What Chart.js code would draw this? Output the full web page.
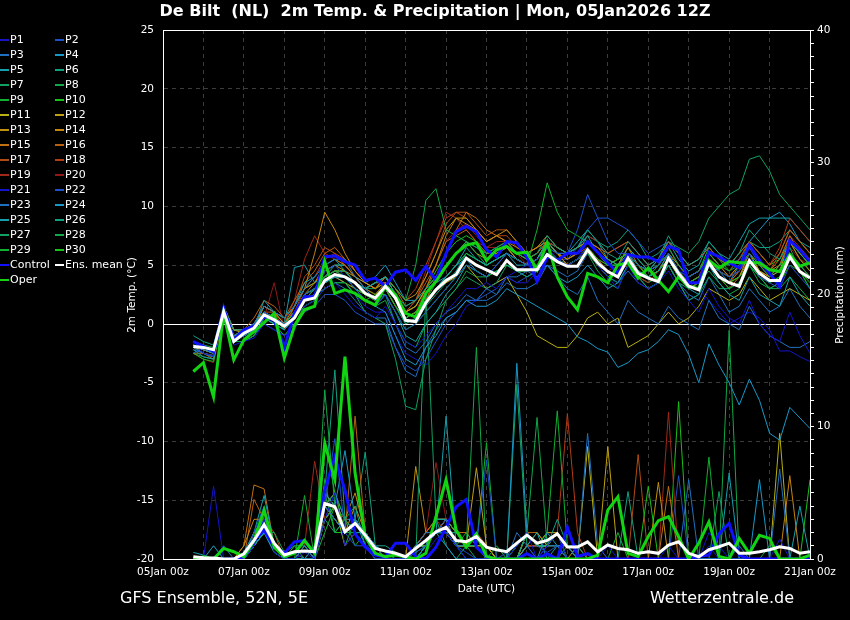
<!DOCTYPE html>
<html>
<head>
<meta charset="utf-8">
<script src="https://cdn.jsdelivr.net/npm/chart.js@4.4.1/dist/chart.umd.min.js"></script>
<style>
html, body { margin: 0; padding: 0; background: #000; }
canvas { display: block; }
</style>
</head>
<body>
<canvas id="ens" width="850" height="620"></canvas>
<script>
const TITLE = "De Bilt  (NL)  2m Temp. & Precipitation | Mon, 05Jan2026 12Z";
const FOOT_LEFT = "GFS Ensemble, 52N, 5E";
const FOOT_RIGHT = "Wetterzentrale.de";
const X_LABELS = ["05Jan 00z", "07Jan 00z", "09Jan 00z", "11Jan 00z", "13Jan 00z",
                  "15Jan 00z", "17Jan 00z", "19Jan 00z", "21Jan 00z"];

// forecast hours since 05Jan 00z (05Jan 18z ... 21Jan 00z, every 6h)
const HOURS = [18,24,30,36,42,48,54,60,66,72,78,84,90,96,102,108,114,120,126,132,138,144,150,156,162,168,
               174,180,186,192,198,204,210,216,222,228,234,240,246,252,258,264,270,276,282,288,294,300,306,
               312,318,324,330,336,342,348,354,360,366,372,378,384];

// 2m temperature (°C): first value 05Jan 18z, then one group of 00z,06z,12z,18z per day, last 21Jan 00z
const CTRL_T = [-1.5,  -1.9,-2.35,1.35,-1.36,  -0.5,-0.2,0.6,0.3,  -2.0,0.9,2.3,2.3,  5.7,5.8,5.3,5.0,
  3.7,3.9,3.2,4.4,  4.6,3.7,4.9,3.7,  6.0,7.85,8.3,7.85,  6.3,5.7,7.0,6.9,  5.7,3.6,5.7,5.4,
  6.0,6.0,7.0,6.1,  5.2,4.3,5.9,5.7,  5.7,5.3,6.6,6.3,  3.5,3.5,6.1,5.7,  5.2,4.75,6.7,5.4,
  4.3,3.2,7.1,6.3,  5.3];
const OPER_T = [-4.05,  -3.3,-6.2,0.9,-3.06,  -1.36,-0.65,0.1,0.9,  -2.9,-0.2,1.2,1.5,  5.3,2.6,2.9,2.6,
  2.0,1.6,3.2,2.5,  0.9,0.6,2.6,3.6,  4.9,6.0,6.7,6.9,  5.4,6.3,6.6,6.0,  6.1,4.6,6.9,4.0,
  2.3,1.2,4.3,4.0,  3.5,5.0,5.2,3.9,  4.75,3.7,2.75,4.0,  3.2,3.0,5.4,4.75,  5.3,5.2,5.2,5.2,
  4.6,4.45,5.9,4.9,  5.2];
const MEAN_T = [-1.93,  -2.0,-2.2,1.05,-1.5,  -0.8,-0.35,0.77,0.34,  -0.2,0.5,2.0,2.2,  3.7,4.2,4.0,3.5,
  2.6,2.2,3.2,2.2,  0.3,0.2,1.8,2.9,  3.7,4.2,5.6,5.0,  4.6,4.2,5.4,4.6,  4.6,4.6,5.9,5.3,
  4.9,4.9,6.3,5.2,  4.45,4.0,5.6,4.3,  3.9,3.6,5.6,4.3,  3.2,2.9,5.2,4.0,  3.5,3.2,5.4,4.3,
  3.7,3.7,5.7,4.45,  3.9];

// precipitation (mm / 6h), same layout
const CTRL_P = [0.07,  0,0,0,0,  0.17,1.4,2.2,0.9,  0.43,1.3,1.4,0.43,  5.2,7.7,5.2,1.9,  0.9,0.3,0.17,1.2,
  1.2,0.17,0,0.9,  2.4,3.95,4.5,0.9,  0.2,0,0,0,  0.4,0,0.4,0,  2.4,0.2,0.4,0,  0,0,0,0,  0,0,0,0,
  0,0.2,0.3,1.9,  2.7,0.3,0,0,  0,0,0,0,  0];
const OPER_P = [0,  0.17,0,0.8,0.55,  0.17,1.4,3.7,0.9,  0.17,0.43,1.4,0.43,  8.75,6.0,15.3,6.5,
  1.7,0.43,0.17,0.3,  0.17,0,0.43,3.2,  6.0,2.2,0.9,1.9,  0.2,0,0,0,  0,0,0,0,  0,0,0,0.3,
  3.7,4.7,0.43,0.2,  1.7,2.9,3.2,1.7,  0,1.2,2.8,0.2,  0,1.56,0.43,1.8,  1.56,0,0,0,  0.3];
const MEAN_P = [0.17,  0.1,0.07,0,0,  0.4,1.4,2.6,1.2,  0.3,0.55,0.6,0.55,  4.2,3.95,2.06,2.7,
  1.8,0.8,0.6,0.43,  0.17,0.8,1.4,2.06,  2.4,1.4,1.3,1.7,  0.9,0.7,0.55,1.2,  1.8,1.2,1.4,1.9,
  0.9,0.9,1.3,0.55,  1.06,0.8,0.7,0.43,  0.55,0.43,1.06,1.3,  0.43,0.17,0.7,0.93,  1.2,0.43,0.43,0.55,
  0.7,0.93,0.8,0.43,  0.55];

// members, 2m temperature
const T_P01 = [-1.5,  -2.5,-2.7,0.5,-1.8,  -1.5,-1.2,0,-0.5,  -1,-0.5,1.5,2,  3,3.5,2.5,1.5,  1,0.5,1.5,0,  -1.5,-2,-1,0,  1,2,3,3,  3.5,3,4,4.5,  5,4.5,6.5,5.5,  5,5.5,6.5,5,  4,3,5,3.5,  3,3.5,4.5,3,  2,1,3,1.5,  0.5,0,2,0,  -1,-1.5,1,-1,  -2.5];
const T_P02 = [-2,  -2.5,-2.8,1,-1.5,  -1,-0.5,1,0.5,  0,0.5,2.5,3,  4.5,5,4,3,  2,1.5,2.5,1,  -0.5,0,1,2,  3,4,5,4.5,  4,5,6,5.5,  5,5.5,6.5,6,  6,8,11,9,  7,6,6,5,  4.5,5,6,4.5,  4,4.5,5.5,4.5,  4,4.5,6,4,  3.5,3,5,4,  3];
const T_P03 = [-2.5,  -2,-2.5,1.5,-1,  -0.5,0,1.5,1,  0.5,1.5,3,4,  5,5.5,5.5,4,  3,2,2.5,0,  -2,-2.5,-1.5,0,  1,1.5,2.5,2,  3,2.5,4,4,  4.5,4,5,4,  3,2.5,4,2,  1,0,2,1,  0.5,0,1.5,0.5,  0,-0.5,2,0.5,  0,-0.5,1.5,0,  -1,-1.5,-2,-2,  -1.5];
const T_P04 = [-1.8,  -2.2,-2.5,0.5,-1.5,  -1,-0.5,0.5,0,  -0.5,0.5,2,2.5,  3.5,4,4,3,  2,1.5,1,-1,  -3,-3.5,-2,-1,  0.5,1,2,1.5,  1.5,2,3,2.5,  2,1.5,1,0.5,  0,-1.1,-1.5,-2.1,  -2.4,-3.7,-3.3,-2.5,  -2.2,-1.5,-0.5,-0.9,  -2.6,-5,-1.7,-3.5,  -5,-6.9,-4.7,-6.5,  -9.3,-9.9,-7.1,-8,  -8.9];
const T_P05 = [-2.2,  -2.8,-3,1.2,-1,  -0.8,-0.3,2,1,  0.5,1.5,3.5,4,  5,5.5,4.5,3.5,  3,3.5,4,2.5,  1,0.5,2,3,  4,5,6.5,5.5,  5,5.5,6,5,  5,5.5,7,6,  6,6.5,7.5,6,  5.5,5,6,4.5,  4,4.5,6,4,  3,2.5,5,3.5,  2.5,2,4,2.5,  2,1.5,4,2.5,  1.5];
const T_P06 = [-1,  -1.5,-1.8,1.5,-0.5,  -0.5,0,1,0.5,  0,1,2,3,  3.5,4,4,3.5,  3,3.5,4,2.5,  1.5,2,3,4,  5,6,7,6.5,  6,6.5,7,6,  5.5,6,7.5,6.5,  6,6.5,8,7,  6,5.5,7,6,  5,5.5,7.5,6,  5,5.5,7,6,  5,6,8,7,  6,5.5,7,6,  5];
const T_P07 = [-2,  -2,-2.5,0.5,-1.5,  -1.5,-1,0.5,0,  -0.5,0.5,1.5,2,  3,3.5,3.5,2.5,  1,0.5,0,-3,  -7,-7.3,-3,-0.5,  2,3,4,3.5,  3,3.5,5,4.5,  4,4.5,6,5.5,  5,5.5,6,4.5,  3.5,3,5,4,  3,3.5,5,3.5,  2,2.5,4,3,  3,3.5,5,4,  3,3.5,6,5,  4];
const T_P08 = [-1.5,  -1.8,-2,1,-1,  -1,-0.5,1,0.5,  0,1,2.5,3,  4,4.5,4.5,3.5,  3,3.5,4,3,  2,5,10.5,11.5,  8,7.5,7,6,  5,5.5,6,5.5,  5,5,6.5,5.5,  5,5.5,6,5,  4,4.5,5.5,4.5,  4,5,6.5,5,  4,4.5,6,5,  4.5,5,6,5,  4,5,6.5,4.5,  3];
const T_P09 = [-2,  -2.5,-2.8,0.5,-1,  -1,-0.5,1,0.5,  -0.5,0.5,2,3,  4,4.5,4,3,  2.5,2,3,1.5,  0.5,1,2,3,  4,5,6,5.5,  5,5.5,6,5.5,  5,8,12,9.5,  8,7.5,7,6,  5,5.5,6,5,  4.5,5,6,4.5,  3.5,4,5,4,  3,3.5,5,4,  3.5,4,6,5,  4];
const T_P10 = [-2.5,  -3,-3.2,1,-1.5,  -1.5,-1,0.5,0,  -1,0,1.5,2,  3,3.5,3.5,2.5,  2,2.5,2.5,1,  -0.5,0,1,2,  3,4,5,4.5,  4,4.5,5,4.5,  4.5,5,6,5.5,  5,5.5,6.5,5.5,  5,5.5,6,5,  4,4.5,5.5,4,  3,3.5,5,4,  3.5,4,5,4,  3,3.5,5,4.5,  3.5];
const T_P11 = [-1.8,  -2,-2.2,1,-1,  -0.5,0,1,0.5,  0,1,2,2.5,  3.5,4,3.5,3,  2.5,2,3,1.5,  0.5,1,2,3,  3.5,4,5,4,  3,3.5,4,2.5,  1,-1,-1.5,-2,  -2,-1,0.5,1,  0,0.5,-2,-1.5,  -1,0,1,0,  0.5,1.5,3,2.5,  2,2.5,4,3,  2,2.5,3,2.5,  2];
const T_P12 = [-2,  -2.2,-2.5,1.5,-0.5,  -0.8,-0.3,1.5,1,  0,1,2.5,3,  4,4.5,4.5,3.5,  3,3.5,4,2.5,  1,1.5,3,4,  5,6,7,6,  5.5,6,6.5,5.5,  5,5.5,7,6,  5,5.5,6.5,5,  4.5,4,6,4.5,  4,4.5,5.5,4,  3,3.5,5.5,4,  3.5,4,6,4.5,  4,4.5,7,6,  5];
const T_P13 = [-1.5,  -2,-2.3,1,-0.5,  -0.5,0,1.5,1,  0.5,1.5,3,3.5,  4.5,5,4.5,4,  3.5,3,4,3,  2,2.5,4,6,  8,9,9,8,  7,7.5,8,7,  6,6.5,7.5,6.5,  6,6.5,7,6,  5,5.5,6,5,  4.5,5,6,5,  4,4.5,6,5,  4,5,6.5,5.5,  4.5,5,6,5,  4];
const T_P14 = [-2,  -2.5,-2.7,0.5,-1,  -1,-0.5,1,0.5,  0,1.5,3,6,  9.5,8,6,4.5,  3.5,3,3.5,2,  1,1.5,3,5,  7.5,9,8.5,8,  7,7.5,7,6.5,  6,6.5,7,6,  5.5,6,7,6.5,  5.5,5,6.5,5,  4.5,5,6,4.5,  3.5,4,5,4,  3,4,5.5,4.5,  4,5,7,5.5,  4.5];
const T_P15 = [-2.5,  -2.5,-3,1,-1,  -1,-0.5,1,0.5,  0,1,2.5,3.5,  5,5.5,5,4,  3,2.5,3.5,2,  0.5,1,2,4,  6,8,9.5,9,  8,7.5,7,6,  5.5,6,7,6,  5,5.5,6.5,5.5,  4.5,4,5.5,4.5,  4,4.5,5.5,4,  3,3.5,5,4,  3.5,4.5,6,5,  4.5,5.5,7.5,6,  5];
const T_P16 = [-1.8,  -2.2,-2.5,1,-0.5,  -0.5,0.5,2,1.5,  0.5,2,3.5,4.5,  6,6.5,5.5,4.5,  3.5,3,4,3,  1.5,2,3.5,5,  7,7.5,8,7,  6,6,6.5,5.5,  5,5.5,6.5,6,  5.5,6,7,6.5,  6,6.5,7,6,  5,5.5,7,6,  5,5.5,6.5,5.5,  5,6,7,6,  5,6,8,7,  6];
const T_P17 = [-2,  -2.5,-2.7,1,-1,  -1,-0.5,1,1,  -0.5,1.5,4,5,  6.5,6,5,4,  3,3.5,3.5,2,  1,2,4,6,  8.5,9.5,9.5,8.5,  7.5,8,8,7,  6,6.5,7,6,  5.5,6,6.5,5.5,  5,5.5,6,5,  4,4.5,6,4.5,  3,3.5,5.5,4.5,  4,5,6.5,5.5,  4.5,6,8,7,  6];
const T_P18 = [-1.5,  -2,-2.3,1.5,-0.5,  -0.5,0,1.5,1,  0,1,3,4,  5.5,6,5.5,4.5,  3.5,3,4,3,  2,3,5,7,  9,9.5,9,8,  7,7.5,7.5,6.5,  6,6.5,7,6,  5,5.5,6,5,  4,4.5,5,4,  3.5,4.5,5.5,4.5,  3.5,4,6,5,  4.5,5.5,7,6,  5,6.5,9,8,  7];
const T_P19 = [-2,  -2.2,-2.5,1,-1,  -1,-0.5,1.5,1,  0,2,5.5,7.5,  6,5.5,5,4,  3,3.5,3.5,2,  1,2,4.5,7,  9.5,9,8,7,  6.5,7,7,6,  5.5,6,7,6.5,  6,6.5,7.5,7,  6,6.5,7,6,  5,5.5,6.5,5,  4,4.5,6,5,  4,4.5,6,5,  4,5,7.5,6.5,  5.5];
const T_P20 = [-2.5,  -3,-3.3,0.5,-1.5,  -1.5,-1,0.5,3.5,  -0.5,0.5,2,3,  4,4.5,4,3,  2.5,2,3,1.5,  0.5,1,3,5,  7,8,8.5,7.5,  6.5,6.5,7,6,  5,5.5,6.5,5.5,  5,5.5,6,5,  4.5,5,6,5,  4,4.5,5.5,4.5,  3.5,4,5,4,  3.5,4.5,5.5,4.5,  4,5,6.5,5.5,  5];
const T_P21 = [-1.5,  -2,-2.3,1,-1,  -1,-0.5,0.5,0,  -0.5,0.5,2,2.5,  3.5,4,3.5,2.5,  1.5,1,1,-1,  -2.5,-3,-3.5,-2.5,  -1,0,1.5,2,  3,3.5,4,3.5,  3.5,4.5,6,5.5,  5,5.5,7,6.5,  6,6.5,7,6,  5,5.5,6.5,5,  3.5,3,2,1,  0,0.5,1,0.5,  -0.5,-2.3,-2.3,-2.8,  -3.2];
const T_P22 = [-2,  -2.5,-2.8,0.5,-1.5,  -1.5,-1,0,-0.5,  -1,0,1,1.5,  2.5,2.5,2,1,  0.5,0,0,-2,  -3.5,-4,-3,-1.5,  0,1,2,2,  2.5,3,4,3.5,  4,4.5,6,5.5,  5.5,6.5,8,9,  9,8.5,8,7,  6,6.5,7,6,  5,5.5,6.5,5.5,  5,5.5,6.5,5,  4,4.5,5.5,4.5,  4];
const T_P23 = [-2.2,  -2.5,-2.8,1,-1,  -1,-0.5,1,0.5,  0,1,2,2.5,  3,3.5,3,2,  1,0.5,0.5,-2,  -4,-4.5,-2,-0.5,  0.5,1,2,2,  2,2.5,3.5,3,  3,3.5,5,4.5,  4,4.5,6,5,  4,3.5,4.5,3.5,  3,3.5,5,3.5,  2.5,2,4,2.5,  1,1.5,3,2,  1,1.5,3,1.5,  0.5];
const T_P24 = [-1.8,  -2,-2.3,1.2,-0.5,  -0.5,0,1,0.5,  0,1,2.5,3,  4,5,5,4,  3.5,4,5,3.5,  2,2,3,3.5,  4,5,5.5,4.5,  4,4.5,5,4.5,  4,4.5,5,4,  3.5,4,5,4,  3,3.5,5,4,  3,3.5,5,3.5,  2,2.5,5,4.5,  3.5,5,7,8,  9,9.5,8.5,7,  6];
const T_P25 = [-2,  -2.5,-2.8,0.5,-1.5,  -1,-0.5,1,0.5,  0,4.8,5,3.5,  4,4.5,4,3,  2,1.5,2.5,1,  -1,-1.5,0,1,  2.5,3.5,5,4.5,  4,5,6,5.5,  5,5.5,7,6.5,  6,7,8,7,  5.5,5,6.5,5.5,  4.5,5.5,7,5.5,  4.5,5,7,6,  5.5,7,8.5,9,  9,9,9,8,  7];
const T_P26 = [-1.5,  -2.2,-2.5,1,-1,  -1,-0.5,1,0.5,  -0.5,0.5,2,2.5,  3.5,4,4,3,  2.5,2,3,1.5,  0,0.5,1.5,2.5,  3.5,4.5,6,5.5,  5,5.5,6,5.5,  5,5.5,7,6,  5.5,6,7.5,7,  6.5,7,8,7,  5.5,6,7,6,  5,5.5,6.5,5.5,  5,6,7,6.5,  6.5,7,8,7,  6.5];
const T_P27 = [-2,  -2.5,-2.7,0.5,-1,  -1,-0.5,1,0.5,  0,1,2.5,3,  4,4.5,4.5,3.5,  3,3,3.5,2,  0.5,1,2,3,  4,5,6,5.5,  5,5.5,6,5.5,  5,5.5,7,6.5,  6,6.5,7,6,  5,5.5,6,5,  4.5,5.5,7,6.5,  6,7,9,10,  11,11.5,14,14.3,  13,11,10,9,  8];
const T_P28 = [-2.5,  -2.8,-3,1,-1.5,  -1,-0.5,0.5,0,  -0.5,0.5,2,2.5,  3.5,4,3.5,2.5,  2,1.5,2,0,  -1.5,-2,0,1,  2,3,4.5,4,  4,4.5,5,4.5,  4.5,5,6,5.5,  5,5.5,6,5,  4,3.5,5,4,  3.5,4,5,3.5,  3,3.5,4.5,3.5,  2.5,3,5,3.5,  3,3,4,3,  2];
const T_P29 = [-2,  -2.5,-2.8,0.5,-1,  -1,-0.5,1,0.5,  0,1,2,3,  4,4.5,4,3,  2.5,2,3,1.5,  0,0.5,2,3.5,  5,6,7,6.5,  6,6,6.5,5.5,  5,5.5,7,6,  5.5,6,7,6,  5,5,6,5,  4,4.5,6,4.5,  3.5,4,5.5,4.5,  4,4.5,6,4.5,  3.5,4,6,4.5,  3];
const T_P30 = [-1.5,  -2,-2.2,1.5,-0.5,  -0.5,0,1.5,1,  0.5,1.5,3,3.5,  4.5,5,5,4,  3,2.5,3.5,2.5,  1,1.5,3,4.5,  6,7,7.5,7,  6,6.5,7,6,  5.5,6,7,6.5,  6,6.5,7,6,  5,5,6.5,5.5,  4.5,5,6.5,5,  4,4.5,6.5,5.5,  4.5,5.5,7,6,  5,5.5,7,5.5,  4.5];

// members, precipitation
const P_P01 = [0,  0,5.5,0,0,  0,1,3,0.5,  0,0,0.5,0,  3,5,1,2,  1,0,0,0,  0,0,0.5,1.5,  2,1,0,0,  0,0,0,1,  2,0,1,2,  0,0,0,0,  1,0,0,0,  0,0,1,0,  0,0,2,1,  0,0,0,0,  0,1.5,0,0,  0];
const P_P02 = [0,  0,0,0,0,  0,2,4,1,  0,0.5,0,0,  4,9.1,2,1,  1,0.5,0,0,  0,0.5,1,2,  3,1,0.5,0,  0,0,0.5,1,  2,1,0.5,1,  0,0,0,0,  0,0,0,0,  0,0,0,0,  0,0,0,0,  0,0,0,0,  0,0,0,0,  0];
const P_P03 = [0,  0,0,0,0,  0,1.5,3,1,  0,0,1,0,  4,3,2,3,  2,1,0,0,  0,1,2,2,  2,1,1,2,  0,0,0,2,  1,0,1,1,  1,0,9.5,1,  0,0,0,0,  0,0,0,0,  0,0,0,0,  0,1,0,0,  0,6.8,0,0,  0];
const P_P04 = [0,  0,0,0,0,  0,1,2,0.5,  0,0,0,1,  5,4,8.2,3,  1,0,0,0,  0,0,1,2,  1,0,0,0,  0,0,0,0,  0,0,2,1,  0,0,0,0,  0,0,0,0,  0,0,0,0,  0,0,0,0,  0,0,0,0,  0,0,0,0,  0];
const P_P05 = [0.5,  0.3,0,0,0,  0.5,2,4.8,1,  0,0,0,0,  4,3,2,3,  2,1,0.5,0,  0,0.5,1,3,  3,1,0,0,  0,0,0,0,  1,2,0,1,  0,0,0,0,  0,0,0,0,  0,0,0,0,  0,0,0,0,  6.5,0,0,0,  0,0,0,0,  0];
const P_P06 = [0,  0,1,0,0,  0,1,3,1,  0,0,1,0,  5,14.3,3,2,  2,1,1,0.5,  0,0,1,2,  2,2,1,1,  0,0,0,0,  2,1,1,3,  1,1,0,0,  0,0,0,0,  0,0,0,0,  0,0,0,0,  0,0,0,0,  0,0,0,0,  0];
const P_P07 = [0,  0,0,0,0,  0,1,2,2,  0.5,1,1,0,  4,5,3,4,  1,0,0,0,  0,0,20,3,  1,0,1,0,  0,0,0,0,  0,0,0,0,  1,0,0,0,  0,0,0,0,  0,0,0,0,  0,0,0,5.1,  0,0,0,0,  0,0,0,0,  0];
const P_P08 = [0,  0,0,0,0,  0,2,3,1,  0,0,0,0,  12.8,4,2,2,  1,0,0,0,  0,1,1,3,  3,2,1,1,  0,0,0,0,  2,10.7,1,1,  0,0,0,0,  0,0,0,0,  0,0,0,0,  0,0,0,0,  0,0,0,0,  0,0,0,0,  0];
const P_P09 = [0,  0,0,0,0,  0,1,2,1,  0,0,4.8,0,  3,4,2,3,  2,1,0,0,  0,0,1,2,  2,1,2,1,  0,1,0,1,  2,1,2,11.2,  1,0,0,0,  0,2,0,0,  0,0,0,0,  0,0,0,0,  0,0,0,0,  1,0,0,0,  0];
const P_P10 = [0,  0,0,0,0,  0,1,2,0.5,  0,1,0,0,  9,5,2,3,  2,1,0,0,  0,0,1,2,  2,1,1,2,  0,0,0,1,  2,1,1,2,  0,0,0,0,  0,0,0,0,  5.5,0,0,0,  0,0,0,0,  0,0,0,0,  0,0,0,0,  6];
const P_P11 = [0,  0,0,0,0,  0,1.5,3,1,  0,0,0,0,  3,4,1,2,  2,1,0,0,  0,1,1,2,  3,2,1,1,  1,0,0,0,  2,1,1,1,  1,0,8.5,0,  0,0,0,0,  0,0,0,0,  0,0,0,0,  0,0,0,0,  0,9.5,0,0,  0];
const P_P12 = [0,  0,0,0,0,  0,2,3,1,  0,0,0,0,  4,3,2,3,  2,1,0,0,  0,0,1,2,  2,1,1,6.9,  1,0,0,0,  1,2,1,2,  0,1,0,0,  8.5,0,0,0,  0,0,0,0,  0,0,0,0,  0,0,0,0,  0,0,0,0,  0];
const P_P13 = [0,  0,0,0,0,  0,2,3,1,  0,0,1,0,  5,4,2,4,  2,1,0,0,  0,7,2,2,  3,1,1,1,  0,0,0,0,  2,1,2,2,  1,0,0,0,  0,0,0,0,  0,5.8,0,0,  0,0,0,0,  0,0,0,0,  0,0,0,0,  0];
const P_P14 = [0,  0,0,0,0,  1,3,3,1,  0,0,0,0,  5,4,3,5,  2,1,0,0,  0,1,1,3,  3,2,1,1,  1,0,0,1,  2,1,2,2,  1,0,0,0,  0,0,0,0,  0,0,0,0,  0,0,0,0,  0,0,0,0,  0,0,6.3,0,  0];
const P_P15 = [0,  0,0,0,0,  1,5.6,5.3,1,  0,0,1,0,  4,5,2,3,  2,1,0,0,  0,1,2,3,  3,2,2,1,  0,0,0,0,  2,1,1,2,  1,0,0,0,  0,0,0,0,  0,0,5.5,0,  0,0,0,0,  0,0,0,0,  0,0,0,0,  0];
const P_P16 = [0,  0,0,0,0,  0,4.5,3,1,  0,0.5,0,0,  4,5,2,10.8,  2,1,0,0,  0,1,1,2,  3,1,1,2,  1,0,0,0,  2,2,1,2,  1,0,0,0,  0,0,0,0,  0,0,0,0,  0,0,0,0,  0,0,0,0,  0,0,0,0,  0];
const P_P17 = [0,  0,0,0,0,  0,2,3,2,  0,0,0,1,  3,4,2,3,  2,1,0,0,  0,1,2,3,  3,2,1,1,  0,0,0,0,  1,1,2,2,  1,0,0,0,  0,0,0,7.9,  0,0,0,0,  0,0,0,0,  0,0,0,0,  0,0,0,0,  0];
const P_P18 = [0,  0,0,0,0,  0,1,3,1,  0,0,0,0,  4,3,2,3,  2,1,0,0,  0,1,2,3,  3,1,1,1,  0,0,0,0,  2,1,1,2,  11,2,0,0,  0,0,0,0,  0,0,0,0,  0,0,0,0,  0,0,0,0,  0,0,0,0,  0];
const P_P19 = [0,  0,0,0,0,  0,2,2,1,  0,0,1,7.4,  3,4,2,3,  2,1,0,0,  0,1,2,3,  2,1,1,1,  0,0,0,0,  1,1,2,2,  1,0,0,0,  0,0,0,0,  0,0,11.1,0,  0,0,0,0,  0,0,0,0,  0,0,0,0,  0];
const P_P20 = [0,  0,0,0,0,  0,1,2,1,  0,0,0,0,  3,4,2,3,  2,1,0,0,  0,1,2,7.3,  3,1,1,1,  0,0,0,0,  1,1,2,2,  1,0,0,0,  0,0,0,0,  0,0,0,0,  0,0,0,0,  0,0,0,0,  0,0,0,0,  0];
const P_P21 = [0,  0,1,0,0,  0,1,2,1,  0,0,0,0,  3,4,2,2,  1,1,0,0,  0,1,1,2,  2,1,1,1,  0,0,0,0,  1,0,1,1,  0,0,0,0,  0,0,0,0,  0,0,0,0,  0,0,1,0,  0,0,0,0,  0,0,0,0,  0];
const P_P22 = [0,  0,0,0,0,  0,1,2,1,  0,0,0,0,  3,5,2,2,  1,0.5,0,0,  0,1,1,2,  2,1,1,1,  7.5,0,0,0,  1,1,1,2,  0,0,0,0,  0,0,0,0,  0,0,0,6.3,  0,0,0,0,  0,0,0,0,  0,0,0,0,  0];
const P_P23 = [0,  0,0,1,0,  0,1,2,1,  0,0,0,0,  3,4,2,3,  2,1,0,0,  0,1,1,2,  2,1,1,1,  0,0,0,0,  1,1,1,2,  1,0,0,0,  0,0,0,0,  0,0,0,0,  6,0,0,0,  0,0,0,0,  0,0,0,0,  0];
const P_P24 = [0,  0,0,0,0,  0,1,3,1,  0,0,0,0,  4,5,3,3,  2,1,0,0,  0,1,2,2,  2,1,1,1,  0,0,0,14.8,  2,1,1,2,  1,0,0,0,  0,0,0,0,  0,0,0,0,  0,0,0,0,  0,0,0,6,  0,0,0,0,  0];
const P_P25 = [0,  0,0,0,0,  0,1,2,1,  0,0,0,0,  3,4,2,3,  2,1,0,0,  0,1,1,2,  10.8,1,1,1,  0,0,0,0,  1,1,1,2,  1,0,0,0,  0,0,0,0,  0,0,0,0,  0,0,0,0,  0,0,0,0,  0,0,0,4,  0];
const P_P26 = [0,  0,0,0,0,  0,1,3,1,  0,0,0,0,  4,3,2,3,  8.1,1,0,0,  0,1,1,2,  2,1,1,1,  0,0,0,0,  1,1,1,2,  1,0,0,0,  0,0,5.1,0,  0,0,0,0,  0,0,0,0,  0,0,0,0,  0,0,0,0,  0];
const P_P27 = [0,  0,0,0,0,  0,1,2,1,  0,0,0,0,  3,2,3,2,  2,1,0,0,  0,1,1,2,  2,1,1,1,  0,0,0,13.2,  1,1,1,2,  1,0,0,0,  0,0,0,0,  0,0,0,0,  0,0,0,0,  0,0,0,0,  0,0,0,0,  0];
const P_P28 = [0,  0,0,0,0,  0,1,2,1,  0,0,0,0,  6,2,3,1,  2,1,0,0,  0,1,1,2,  2,1,1,16,  0,0,0,0,  1,1,1,2,  1,0,0,0,  0,0,0,0,  0,0,0,0,  0,0,0,0,  17.3,0,0,0,  0,0,0,0,  0];
const P_P29 = [0,  0,0,0,0,  0,1,2,1,  0,0,0,0,  2,4,1,3,  2,1,0,0,  0,1,1,2,  2,1,1,1,  8.8,0,0,0,  1,1,1,2,  1,0,0,0,  0,0,0,0,  0,0,0,0,  0,0,7.7,0,  0,0,0,0,  0,0,0,0,  0];
const P_P30 = [0,  0,0,0,0,  0,1,2,1,  0,0,0,0,  5,2,2,2,  2,1,0,0,  0,1,1,2,  2,1,1,1,  0,0,0,0,  1,1,1,2,  1,0,0,0,  0,0,0,0,  0,0,0,11.9,  0,0,0,0,  0,0,0,0,  0,0,0,0,  0];

const MEMBER_NAMES = ["P1","P2","P3","P4","P5","P6","P7","P8","P9","P10","P11","P12","P13","P14","P15",
                      "P16","P17","P18","P19","P20","P21","P22","P23","P24","P25","P26","P27","P28","P29","P30"];
// P21..P30 reuse the colours of P1..P10
const MEMBER_COLORS = ["#1414c8","#1e50c8","#2070c0","#1898c8","#14a0ac","#10a080","#10a060","#10a848","#10b030","#18c018",
                       "#b8b010","#c0a010","#c09010","#c48410","#c07010","#b86010","#b04c10","#b03c18","#a02818","#901818"];
const CTRL_COLOR = "#1010ff";
const OPER_COLOR = "#12d412";
const MEAN_COLOR = "#ffffff";

const MEMBER_T = [T_P01,T_P02,T_P03,T_P04,T_P05,T_P06,T_P07,T_P08,T_P09,T_P10,T_P11,T_P12,T_P13,T_P14,T_P15,
                  T_P16,T_P17,T_P18,T_P19,T_P20,T_P21,T_P22,T_P23,T_P24,T_P25,T_P26,T_P27,T_P28,T_P29,T_P30];
const MEMBER_P = [P_P01,P_P02,P_P03,P_P04,P_P05,P_P06,P_P07,P_P08,P_P09,P_P10,P_P11,P_P12,P_P13,P_P14,P_P15,
                  P_P16,P_P17,P_P18,P_P19,P_P20,P_P21,P_P22,P_P23,P_P24,P_P25,P_P26,P_P27,P_P28,P_P29,P_P30];

const FONT = "'DejaVu Sans', sans-serif";
const GRID = "#3c3c3c";

const datasets = [];
function addLine(label, vals, axis, color, width, order) {
    datasets.push({
        label: label,
        data: vals.map((v, i) => ({ x: HOURS[i], y: v })),
        yAxisID: axis,
        borderColor: color,
        borderWidth: width,
        pointRadius: 0,
        tension: 0,
        fill: false,
        order: order
    });
}

addLine("Ens. mean", MEAN_T, "y", MEAN_COLOR, 3, 1);
addLine("Oper", OPER_T, "y", OPER_COLOR, 3, 2);
addLine("Control", CTRL_T, "y", CTRL_COLOR, 3, 3);
addLine("Ens. mean", MEAN_P, "y2", MEAN_COLOR, 3, 1);
addLine("Oper", OPER_P, "y2", OPER_COLOR, 3, 2);
addLine("Control", CTRL_P, "y2", CTRL_COLOR, 3, 3);
MEMBER_T.forEach((vals, i) => addLine(MEMBER_NAMES[i], vals, "y", MEMBER_COLORS[i % 20], 1, 10));
MEMBER_P.forEach((vals, i) => addLine(MEMBER_NAMES[i], vals, "y2", MEMBER_COLORS[i % 20], 1, 10));

// title, footer, axis titles, legend, zero line and top frame
const decor = {
    id: "decor",
    beforeDatasetsDraw(chart) {
        const { ctx, chartArea: a, scales } = chart;
        const y0 = Math.round(scales.y.getPixelForValue(0)) + 0.5;
        ctx.save();
        ctx.strokeStyle = "#fff";
        ctx.lineWidth = 1;
        ctx.beginPath();
        ctx.moveTo(a.left, y0);
        ctx.lineTo(a.right, y0);
        ctx.stroke();
        ctx.restore();
    },
    afterDraw(chart) {
        const { ctx, chartArea: a } = chart;
        ctx.save();
        ctx.strokeStyle = "#fff";
        ctx.lineWidth = 1;
        ctx.beginPath();
        ctx.moveTo(a.left, a.top + 0.5);
        ctx.lineTo(a.right, a.top + 0.5);
        ctx.stroke();

        ctx.fillStyle = "#fff";
        ctx.textBaseline = "middle";
        ctx.textAlign = "center";
        ctx.font = "bold 16px " + FONT;
        ctx.fillText(TITLE, 435, 12);

        ctx.font = "10.5px " + FONT;
        ctx.fillText("Date (UTC)", (a.left + a.right) / 2, 589);

        ctx.save();
        ctx.translate(132, 295);
        ctx.rotate(-Math.PI / 2);
        ctx.fillText("2m Temp. (°C)", 0, 0);
        ctx.restore();
        ctx.save();
        ctx.translate(840, 295);
        ctx.rotate(-Math.PI / 2);
        ctx.fillText("Precipitation (mm)", 0, 0);
        ctx.restore();

        ctx.font = "16px " + FONT;
        ctx.textAlign = "left";
        ctx.fillText(FOOT_LEFT, 120, 599);
        ctx.textAlign = "right";
        ctx.fillText(FOOT_RIGHT, 794, 599);

        // legend: two columns
        const entries = MEMBER_NAMES.map((n, i) => [n, MEMBER_COLORS[i % 20]]);
        entries.push(["Control", CTRL_COLOR], ["Ens. mean", MEAN_COLOR], ["Oper", OPER_COLOR]);
        ctx.font = "11px " + FONT;
        ctx.textAlign = "left";
        ctx.lineWidth = 2;
        entries.forEach(([name, color], i) => {
            const x = (i % 2) * 55;
            const y = 40 + Math.floor(i / 2) * 15;
            ctx.strokeStyle = color;
            ctx.beginPath();
            ctx.moveTo(x, y);
            ctx.lineTo(x + 9, y);
            ctx.stroke();
            ctx.fillStyle = "#fff";
            ctx.fillText(name, x + 10, y);
        });
        ctx.restore();
    }
};

Chart.defaults.font.family = FONT;
Chart.defaults.color = "#fff";

new Chart(document.getElementById("ens").getContext("2d"), {
    type: "line",
    data: { datasets: datasets },
    options: {
        responsive: false,
        devicePixelRatio: 1,
        animation: false,
        events: [],
        layout: { padding: { top: 30, left: 0, right: 0, bottom: 0 } },
        plugins: {
            legend: { display: false },
            tooltip: { enabled: false },
            title: { display: false }
        },
        scales: {
            x: {
                type: "linear",
                min: 0,
                max: 384,
                afterFit: s => { s.height = 61; },
                border: { color: "#fff", dash: [4, 4] },
                grid: {
                    drawTicks: false,
                    color: c => (c.tick.value === 0 || c.tick.value === 384) ? "rgba(0,0,0,0)" : GRID
                },
                ticks: {
                    stepSize: 24,
                    autoSkip: false,
                    maxRotation: 0,
                    padding: 7,
                    color: "#fff",
                    font: { size: 10.5 },
                    callback: v => v % 48 === 0 ? X_LABELS[v / 48] : ""
                }
            },
            y: {
                position: "left",
                min: -20,
                max: 25,
                afterFit: s => { s.width = 163; },
                border: { color: "#fff", dash: [4, 4] },
                grid: {
                    drawTicks: false,
                    color: c => (c.tick.value === -20 || c.tick.value === 25 || c.tick.value === 0) ? "rgba(0,0,0,0)" : GRID
                },
                ticks: { stepSize: 5, padding: 9, color: "#fff", font: { size: 10.5 } }
            },
            y2: {
                position: "right",
                min: 0,
                max: 40,
                afterFit: s => { s.width = 40; },
                border: { color: "#fff" },
                grid: { drawOnChartArea: false, color: "#fff", tickLength: 4 },
                ticks: {
                    stepSize: 1,
                    maxTicksLimit: 100,
                    autoSkip: false,
                    padding: 3,
                    color: "#fff",
                    font: { size: 10.5 },
                    callback: v => v % 10 === 0 ? v : ""
                }
            }
        }
    },
    plugins: [decor]
});
</script>
</body>
</html>
